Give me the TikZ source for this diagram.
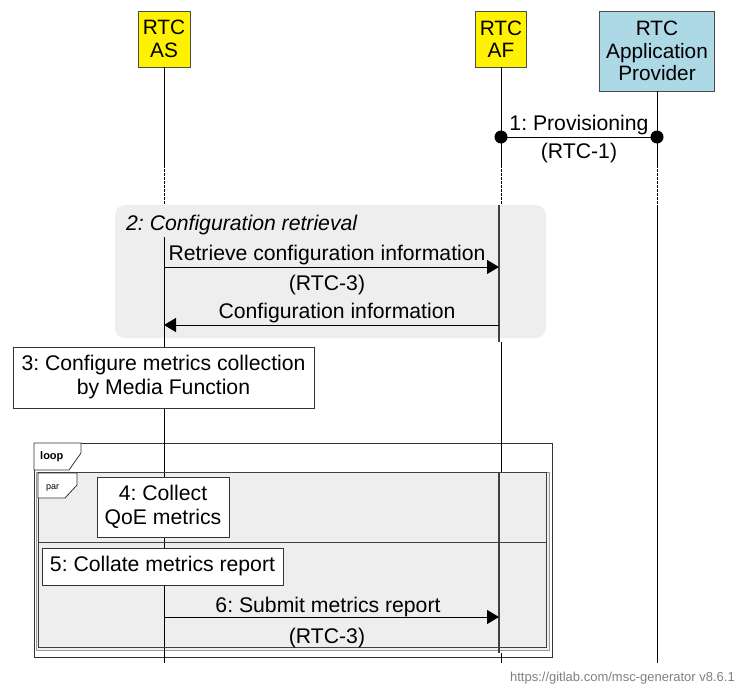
\documentclass[tikz,border=0pt]{standalone}
\usepackage{fontspec}
\setmainfont{Liberation Sans}
\usetikzlibrary{arrows.meta}
\definecolor{provblue}{HTML}{ADD8E6}
\definecolor{boxgrey}{HTML}{EEEEEE}
\frenchspacing
\begin{document}
\begin{tikzpicture}[x=1pt,y=-1pt,
  lbl/.style={font=\fontsize{21.2}{24}\selectfont, inner sep=0pt},
  entity/.style={draw=black!70, line width=0.8pt, align=center, inner sep=0pt, font=\fontsize{20.8}{22.5}\selectfont},
  actbox/.style={draw=black!80, fill=white, line width=0.8pt, align=center, inner sep=0pt, font=\fontsize{21.2}{24}\selectfont},
  life/.style={line width=0.9pt},
  actline/.style={line width=1.4pt, draw=black!75},
  msg/.style={line width=1pt, -{Triangle[length=12pt,width=14pt]}}]
\useasboundingbox (0,0) rectangle (738,688);
% entities
\node[entity, fill=yellow, minimum width=52pt, minimum height=56pt] (as) at (164,39) {RTC\\AS};
\node[entity, fill=yellow, minimum width=51pt, minimum height=56pt] (af) at (501,39) {RTC\\AF};
\node[entity, fill=provblue, minimum width=115pt, minimum height=80pt] (ap) at (657,51) {RTC\\Application\\Provider};
\foreach \e/\x in {as/164, af/501, ap/657} {
  \coordinate (\e-d1) at (\x,165);
  \coordinate (\e-d2) at (\x,205);
  \coordinate (\e-end) at (\x,663);
}
% group boxes
\fill[boxgrey, rounded corners=10pt] (115,205) rectangle (546,338);
\draw[black!80, fill=white, line width=0.8pt] (34,443) rectangle (552,657);
\draw[black!40, fill=boxgrey, line width=0.6pt] (36,472) rectangle (549,650);
% lifelines
\draw[life] (as.south) -- (as-d1);
\draw[life, dash pattern=on 2.5pt off 1.5pt] (as-d1) -- (as-d2);
\coordinate (as-r) at (164,237);
\draw[life] (as-r) -- (as-end);
\coordinate (af-g1) at (499,205);
\coordinate (af-g2) at (499,342);
\coordinate (af-p1) at (499,472);
\coordinate (af-p2) at (499,653);
\coordinate (af-o1) at (501,342);
\coordinate (af-o2) at (501,472);
\coordinate (af-o3) at (501,653);
\draw[life] (af.south) -- (af-d1);
\draw[life, dash pattern=on 2.5pt off 1.5pt] (af-d1) -- (af-d2);
\draw[life] (af-o1) -- (af-o2);
\draw[life] (af-o3) -- (af-end);
\draw[actline] (af-g1) -- (af-g2);
\draw[actline] (af-p1) -- (af-p2);
\draw[life] (ap.south) -- (ap-d1);
\draw[life, dash pattern=on 2.5pt off 1.5pt] (ap-d1) -- (ap-d2);
\draw[life] (ap-d2) -- (ap-end);
% loop / par frames
\draw[black!75, line width=1pt] (38,472) rectangle (546,647);
\coordinate (sep-l) at (38,542);
\coordinate (sep-r) at (546,542);
\draw[black!75, line width=1pt] (sep-l) -- (sep-r);
\draw[black!80, fill=white, line width=0.8pt] (34,443) -- (81,443) -- (81,453) -- (69,470) -- (34,470) -- cycle;
\node[anchor=west, inner sep=0pt, font=\fontsize{11}{13}\selectfont\bfseries] (looptag) at (40,457) {loop};
\draw[black!80, fill=white, line width=0.8pt] (38,473) -- (77,473) -- (77,485) -- (65,498) -- (38,498) -- cycle;
\node[anchor=west, inner sep=0pt, font=\fontsize{9}{11}\selectfont] (partag) at (46,488) {par};
% messages
\coordinate (m1a) at (501,137);
\coordinate (m1b) at (657,137);
\draw[line width=1pt] (m1a) -- (m1b);
\fill (m1a) circle (6.5pt);
\fill (m1b) circle (6.5pt);
\node[lbl] (m1t) at (579,125) {1: Provisioning};
\node[lbl] (m1i) at (579,153) {(RTC-1)};
\node[anchor=west, lbl, font=\fontsize{21.2}{24}\selectfont\itshape] (grp) at (126,225) {2: Configuration retrieval};
\coordinate (m2a) at (164,267);
\coordinate (m2b) at (499,267);
\draw[msg] (m2a) -- (m2b);
\node[lbl] (m2t) at (327,255) {Retrieve configuration information};
\node[lbl] (m2i) at (327,285) {(RTC-3)};
\coordinate (m3a) at (499,325);
\coordinate (m3b) at (164,325);
\draw[msg] (m3a) -- (m3b);
\node[lbl] (m3t) at (337,313) {Configuration information};
\coordinate (m6a) at (164,617);
\coordinate (m6b) at (499,617);
\draw[msg] (m6a) -- (m6b);
\node[lbl] (m6t) at (328,607) {6: Submit metrics report};
\node[lbl] (m6i) at (327,638) {(RTC-3)};
% actions
\node[actbox, minimum width=301pt, minimum height=61pt] (cfg) at (163.5,377.5) {3: Configure metrics collection\\by Media Function};
\node[actbox, minimum width=132pt, minimum height=60pt] (col) at (163,507) {4: Collect\\QoE metrics};
\node[actbox, minimum width=241pt, minimum height=37pt] (rep) at (162.5,566.5) {5: Collate metrics report};
% footer
\node[anchor=east, inner sep=0pt, text=black!50, font=\fontsize{13}{15}\selectfont] (foot) at (735,678) {https://gitlab.com/msc-generator v8.6.1};
\end{tikzpicture}
\end{document}
